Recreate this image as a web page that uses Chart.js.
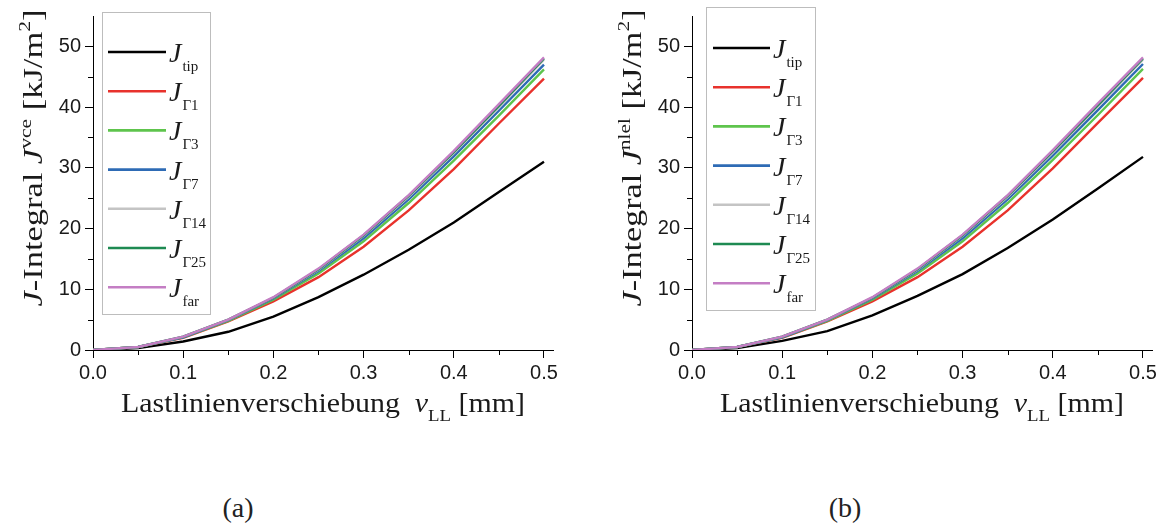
<!DOCTYPE html>
<html>
<head>
<meta charset="utf-8">
<script src="https://cdn.jsdelivr.net/npm/chart.js@4.4.1/dist/chart.umd.min.js"></script>
<style>
  html, body { margin: 0; padding: 0; background: #fff; overflow: hidden; }
  body { width: 1170px; height: 527px; position: relative; }
  canvas { position: absolute; top: 0; }
  #ca { left: 0; }
  #cb { left: 599px; }
  .cap { position: absolute; top: 492px; font-family: "Liberation Serif", "DejaVu Serif", serif; font-size: 28px; color: #222; width: 60px; text-align: center; }
</style>
</head>
<body>
<canvas id="ca" width="585" height="470"></canvas>
<canvas id="cb" width="571" height="470"></canvas>
<div class="cap" style="left:208px;">(a)</div>
<div class="cap" style="left:815px;">(b)</div>
<script>
// ---- data ----
const vLL = [0, 0.05, 0.1, 0.15, 0.2, 0.25, 0.3, 0.35, 0.4, 0.45, 0.5];
const xTicks = [0, 0.1, 0.2, 0.3, 0.4, 0.5];
const yTicks = [0, 10, 20, 30, 40, 50];

// panel (a): J^vce
const tipA  = [0, 0.3, 1.4, 3.0, 5.5, 8.7, 12.4, 16.5, 21.0, 26.0, 31.0];
const g1A   = [0, 0.5, 2.0, 4.7, 8.0, 12.0, 17.0, 23.0, 29.8, 37.3, 44.7];
const g3A   = [0, 0.5, 2.1, 4.8, 8.3, 12.6, 17.9, 24.2, 31.2, 38.6, 46.2];
const g7A   = [0, 0.5, 2.1, 4.9, 8.5, 13.0, 18.4, 24.8, 31.9, 39.4, 47.0];
const g14A  = [0, 0.5, 2.2, 5.0, 8.6, 13.2, 18.8, 25.2, 32.4, 40.0, 47.8];
const g25A  = [0, 0.5, 2.2, 5.0, 8.6, 13.3, 18.9, 25.4, 32.6, 40.2, 48.0];
const farA  = [0, 0.5, 2.2, 5.0, 8.7, 13.4, 19.0, 25.5, 32.8, 40.5, 48.2];

// panel (b): J^nlel
const tipB  = [0, 0.3, 1.5, 3.1, 5.7, 8.9, 12.5, 16.8, 21.5, 26.6, 31.8];
const g1B   = [0, 0.5, 2.0, 4.7, 8.0, 12.0, 17.0, 23.0, 29.9, 37.4, 44.8];
const g3B   = [0, 0.5, 2.1, 4.8, 8.3, 12.6, 17.9, 24.2, 31.3, 38.7, 46.3];
const g7B   = [0, 0.5, 2.1, 4.9, 8.5, 13.0, 18.4, 24.8, 32.0, 39.5, 47.1];
const g14B  = [0, 0.5, 2.2, 5.0, 8.6, 13.2, 18.8, 25.2, 32.5, 40.1, 47.8];
const g25B  = [0, 0.5, 2.2, 5.0, 8.6, 13.3, 18.9, 25.4, 32.7, 40.3, 48.0];
const farB  = [0, 0.5, 2.2, 5.0, 8.7, 13.4, 19.0, 25.5, 32.9, 40.6, 48.2];

const seriesSubs = ['tip', 'Γ1', 'Γ3', 'Γ7', 'Γ14', 'Γ25', 'far'];
const seriesColors = ['#000000', '#e8322c', '#5ec44c', '#2e6bb5', '#c4c4c4', '#1e8a52', '#c47ec4'];

const SERIF = '"Liberation Serif", "Times New Roman", serif';
const SANS = '"Liberation Sans", Arial, sans-serif';

function drawRuns(ctx, runs, x, y, targetLen, rotate) {
  let total = 0;
  const ws = runs.map(r => { ctx.font = r.font; const w = ctx.measureText(r.t).width; total += w; return w; });
  const s = targetLen / total;
  ctx.save();
  ctx.translate(x, y);
  if (rotate) ctx.rotate(-Math.PI / 2);
  ctx.scale(s, 1);
  ctx.fillStyle = '#1a1a1a';
  ctx.textBaseline = 'alphabetic';
  ctx.textAlign = 'left';
  let cx = -total / 2;
  runs.forEach((r, i) => { ctx.font = r.font; ctx.fillText(r.t, cx, r.dy || 0); cx += ws[i]; });
  ctx.restore();
}

function makePanel(canvasId, series, sup, padRight, legend) {
  const datasets = series.map((arr, i) => ({
    label: 'J ' + seriesSubs[i],
    data: vLL.map((v, k) => ({ x: v, y: arr[k] })),
    borderColor: seriesColors[i],
    backgroundColor: seriesColors[i],
    borderWidth: 2.4,
    pointRadius: 0,
    tension: 0,
    fill: false,
    order: series.length - 1 - i
  }));

  const deco = {
    id: 'deco',
    afterDraw(chart) {
      const ctx = chart.ctx;
      const xs = chart.scales.x, ys = chart.scales.y;
      const ca = chart.chartArea;
      // minor ticks
      ctx.save();
      ctx.strokeStyle = '#000';
      ctx.lineWidth = 1;
      ctx.beginPath();
      for (let k = 0; k < xTicks.length - 1; k++) {
        const px = Math.round(xs.getPixelForValue((xTicks[k] + xTicks[k + 1]) / 2)) + 0.5;
        ctx.moveTo(px, ca.bottom); ctx.lineTo(px, ca.bottom + 5);
      }
      for (let k = 0; k < yTicks.length - 1; k++) {
        const py = Math.round(ys.getPixelForValue((yTicks[k] + yTicks[k + 1]) / 2)) + 0.5;
        ctx.moveTo(ca.left, py); ctx.lineTo(ca.left - 5, py);
      }
      ctx.stroke();
      ctx.restore();

      // legend box
      ctx.save();
      ctx.strokeStyle = '#bdbdbd';
      ctx.lineWidth = 1;
      ctx.strokeRect(legend.box[0] + 0.5, legend.box[1] + 0.5, legend.box[2] - legend.box[0], legend.box[3] - legend.box[1]);
      seriesSubs.forEach((sub, i) => {
        const ry = legend.y0 + legend.dy * i;
        ctx.strokeStyle = seriesColors[i];
        ctx.lineWidth = 2.6;
        ctx.beginPath();
        ctx.moveTo(legend.x1, ry); ctx.lineTo(legend.x2, ry);
        ctx.stroke();
        ctx.fillStyle = '#1a1a1a';
        ctx.font = 'italic 28px ' + SERIF;
        ctx.textAlign = 'left';
        ctx.fillText('J', legend.x2 + 3, ry + 10);
        const jw = ctx.measureText('J').width;
        ctx.font = '15px ' + SERIF;
        ctx.fillText(sub, legend.x2 + 3 + jw + 1, ry + 19);
      });
      ctx.restore();

      // axis titles
      const f = '27px ' + SERIF, fi = 'italic 27px ' + SERIF, fs = '17px ' + SERIF;
      drawRuns(ctx, [
        { t: 'Lastlinienverschiebung  ', font: f },
        { t: 'v', font: fi },
        { t: 'LL', font: fs, dy: 9 },
        { t: ' [mm]', font: f }
      ], (ca.left + ca.right) / 2, 412, 404, false);
      drawRuns(ctx, [
        { t: 'J', font: fi },
        { t: '-Integral ', font: f },
        { t: 'J', font: fi },
        { t: sup, font: fs, dy: -11 },
        { t: ' [kJ/m', font: f },
        { t: '2', font: fs, dy: -12 },
        { t: ']', font: f }
      ], 42, 158, 297, true);
    }
  };

  return new Chart(document.getElementById(canvasId), {
    type: 'line',
    data: { datasets },
    plugins: [deco],
    options: {
      responsive: false,
      animation: false,
      devicePixelRatio: 1,
      layout: { padding: { top: 8, right: padRight, bottom: 0, left: 0 } },
      plugins: { legend: { display: false }, tooltip: { enabled: false } },
      scales: {
        x: {
          type: 'linear',
          min: 0, max: 0.51,
          afterFit: s => { s.height = 120; },
          afterBuildTicks: s => { s.ticks = xTicks.map(v => ({ value: v })); },
          ticks: {
            includeBounds: false, autoSkip: false, maxRotation: 0, padding: 3,
            color: '#1a1a1a', font: { family: SANS, size: 20 },
            callback: v => Number(v).toFixed(1)
          },
          grid: { display: true, drawOnChartArea: false, drawTicks: true, tickLength: 8, color: '#000', tickWidth: 1 },
          border: { display: true, color: '#000', width: 1 }
        },
        y: {
          type: 'linear',
          min: 0, max: 55,
          afterFit: s => { s.width = 93; },
          afterBuildTicks: s => { s.ticks = yTicks.map(v => ({ value: v })); },
          ticks: {
            includeBounds: false, autoSkip: false, padding: 4,
            color: '#1a1a1a', font: { family: SANS, size: 20 },
            callback: v => String(v)
          },
          grid: { display: true, drawOnChartArea: false, drawTicks: true, tickLength: 8, color: '#000', tickWidth: 1 },
          border: { display: true, color: '#000', width: 1 }
        }
      }
    }
  });
}

makePanel('ca', [tipA, g1A, g3A, g7A, g14A, g25A, farA], 'vce', 32,
  { box: [102, 12, 210, 314], x1: 108, x2: 166, y0: 52, dy: 39.2 });
makePanel('cb', [tipB, g1B, g3B, g7B, g14B, g25B, farB], 'nlel', 18,
  { box: [107, 7, 216, 310], x1: 114, x2: 171, y0: 48, dy: 39.2 });
</script>
</body>
</html>
